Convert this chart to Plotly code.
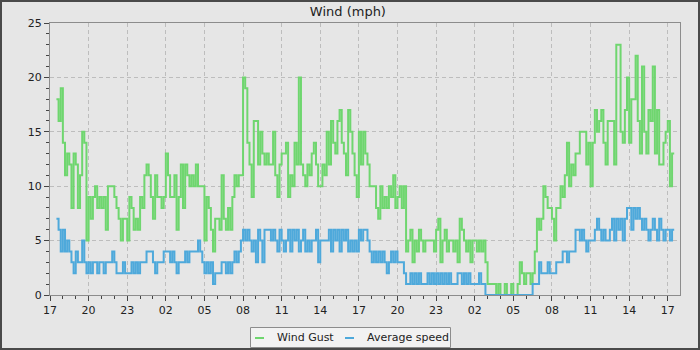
import pandas as pd
import plotly.graph_objects as go

start_time = "2024-06-01 17:30"
step = "10min"

# Wind gust (mph), 10-minute readings, grouped by hour
wind_gust = [
    18, 16, 19,
    14, 11, 13, 12, 8, 13,
    12, 8, 11, 15, 14, 5,
    9, 7, 9, 10, 8, 9,
    8, 9, 6, 10, 10, 10,
    9, 8, 7, 5, 7, 7,
    5, 9, 8, 6, 7, 6,
    9, 8, 11, 12, 11, 9,
    7, 11, 9, 9, 8, 9,
    13, 11, 9, 9, 11, 6,
    9, 12, 8, 12, 11, 10,
    11, 10, 12, 10, 10, 10,
    5, 9, 8, 6, 4, 7,
    7, 6, 11, 7, 6, 8,
    6, 9, 11, 10, 11, 11,
    20, 19, 14, 12, 9, 16,
    16, 12, 15, 13, 12, 13,
    12, 12, 15, 11, 9, 12,
    13, 13, 14, 9, 11, 10,
    14, 12, 20, 12, 11, 10,
    12, 11, 13, 14, 12, 10,
    10, 12, 11, 15, 12, 16,
    14, 13, 16, 17, 14, 13,
    11, 17, 15, 13, 11, 9,
    15, 12, 15, 13, 12, 10,
    10, 10, 8, 7, 10, 8,
    9, 8, 10, 9, 11, 8,
    9, 10, 8, 10, 4, 5,
    6, 3, 5, 4, 6, 5,
    4, 5, 5, 5, 5, 4,
    6, 7, 3, 5, 6, 4,
    5, 5, 4, 5, 3, 7,
    6, 5, 4, 5, 3, 5,
    5, 4, 5, 4, 5, 3,
    1, 1, 1, 1, 0, 1,
    0, 0, 1, 0, 0, 1,
    0, 0, 1, 3, 2, 1,
    2, 2, 1, 2, 4, 7,
    6, 7, 10, 9, 8, 8,
    7, 5, 8, 8, 10, 9,
    11, 14, 10, 12, 11, 13,
    13, 15, 15, 15, 12, 14,
    10, 14, 17, 15, 16, 17,
    14, 12, 16, 16, 16, 12,
    23, 23, 15, 14, 17, 20,
    14, 18, 18, 22, 16, 13,
    21, 15, 13, 17, 16, 21,
    13, 17, 12, 12, 14, 15,
    16, 10, 13, 13,
]

# Average wind speed (mph), 10-minute readings, grouped by hour
average_speed = [
    7, 6, 4,
    6, 4, 5, 4, 3, 2,
    4, 3, 3, 5, 3, 2,
    3, 2, 3, 3, 2, 3,
    3, 2, 3, 3, 3, 4,
    3, 2, 2, 2, 3, 2,
    2, 2, 3, 2, 3, 2,
    3, 3, 3, 4, 4, 4,
    3, 2, 3, 3, 3, 4,
    4, 4, 3, 4, 3, 2,
    3, 3, 3, 4, 3, 4,
    4, 4, 4, 5, 4, 3,
    2, 3, 2, 3, 1, 2,
    2, 2, 3, 3, 2, 3,
    2, 3, 4, 3, 4, 5,
    6, 5, 6, 5, 4, 5,
    3, 6, 5, 3, 6, 6,
    6, 5, 6, 5, 4, 6,
    5, 4, 5, 6, 4, 6,
    5, 6, 4, 5, 6, 4,
    5, 4, 5, 5, 6, 3,
    5, 5, 5, 5, 6, 4,
    6, 5, 6, 4, 6, 5,
    6, 4, 5, 4, 5, 4,
    6, 5, 6, 6, 5, 4,
    3, 4, 3, 4, 3, 4,
    3, 2, 3, 4, 3, 4,
    3, 3, 3, 2, 1, 1,
    2, 1, 2, 1, 2, 1,
    1, 1, 2, 1, 2, 1,
    2, 1, 2, 1, 2, 1,
    2, 1, 1, 1, 2, 2,
    1, 2, 1, 2, 1, 1,
    1, 1, 2, 1, 1, 0,
    0, 0, 0, 0, 0, 0,
    0, 0, 0, 0, 0, 0,
    0, 0, 0, 0, 0, 0,
    0, 0, 0, 1, 1, 1,
    3, 2, 2, 2, 3, 2,
    2, 2, 3, 3, 3, 4,
    4, 3, 4, 4, 4, 6,
    6, 5, 6, 5, 4, 5,
    5, 5, 6, 7, 6, 5,
    6, 5, 5, 6, 7, 5,
    7, 6, 7, 5, 7, 8,
    8, 6, 8, 7, 8, 7,
    6, 7, 6, 5, 6, 7,
    6, 5, 7, 6, 5, 6,
    6, 5, 6, 6,
]

series_names = ["Wind Gust", "Average speed"]
series_colors = ["#6fd66f", "#4ea9db"]
title_text = "Wind (mph)"
x_range = ["2024-06-01 17:00", "2024-06-03 17:57"]

times = pd.date_range(start_time, periods=len(wind_gust), freq=step)

fig = go.Figure()
for name, vals, col in zip(series_names, [wind_gust, average_speed], series_colors):
    fig.add_trace(go.Scatter(x=times, y=vals, mode="lines", name=name,
                             line=dict(color=col, width=2, shape="hv"),
                             showlegend=False))

bg = "#e6e6e6"
axis_common = dict(
    showline=True, linecolor="#8c8c8c", linewidth=1, mirror=True,
    ticks="outside", ticklen=5, tickcolor="#444", tickwidth=1,
    showgrid=True, gridcolor="#bdbdbd", griddash="4px,3px", gridwidth=1,
    zeroline=False, tickfont=dict(size=11, color="#222"),
)
fig.update_xaxes(
    type="date", range=x_range, tickformat="%H",
    tick0="2024-06-01 17:00", dtick=3 * 3600000,
    minor=dict(dtick=3600000, ticks="outside", ticklen=3, tickcolor="#444", showgrid=False),
    **axis_common,
)
fig.update_yaxes(
    range=[0, 25], dtick=5,
    minor=dict(dtick=1, ticks="outside", ticklen=3, tickcolor="#444", showgrid=False),
    **axis_common,
)

W, H = 700, 350
L, R, T, B = 50, 20, 23, 55
pw, ph = W - L - R, H - T - B


def xp(px):
    return (px - L) / pw


def yp(py):
    return (H - B - py) / ph


# outer frame
fig.add_shape(type="rect", xref="paper", yref="paper",
              x0=xp(0), x1=xp(W), y0=yp(H), y1=yp(0),
              line=dict(color="#4a4a4a", width=4), fillcolor="rgba(0,0,0,0)", layer="above")

# legend box drawn manually (short dash samples)
fig.add_shape(type="rect", xref="paper", yref="paper",
              x0=xp(250.5), x1=xp(450.5), y0=yp(347.5), y1=yp(327.5),
              line=dict(color="#8c8c8c", width=1), fillcolor="#f2f2f2", layer="above")
legend_x = [255, 345]
for name, col, lx in zip(series_names, series_colors, legend_x):
    fig.add_shape(type="line", xref="paper", yref="paper",
                  x0=xp(lx), x1=xp(lx + 9), y0=yp(338), y1=yp(338),
                  line=dict(color=col, width=2), layer="above")
    fig.add_annotation(xref="paper", yref="paper", x=xp(lx + 20), y=yp(337.5),
                       text=name, showarrow=False, xanchor="left", yanchor="middle",
                       font=dict(size=11, color="#222"))

fig.update_layout(
    width=W, height=H,
    margin=dict(l=L, r=R, t=T, b=B, autoexpand=False),
    paper_bgcolor=bg, plot_bgcolor=bg,
    font=dict(family="DejaVu Sans", size=11, color="#222"),
    title=dict(text=title_text, x=0.497, xref="container", xanchor="center",
               y=1 - 11 / H, yref="container", yanchor="middle",
               font=dict(size=13, color="#222")),
    showlegend=False,
)

fig.write_html("out.html")
